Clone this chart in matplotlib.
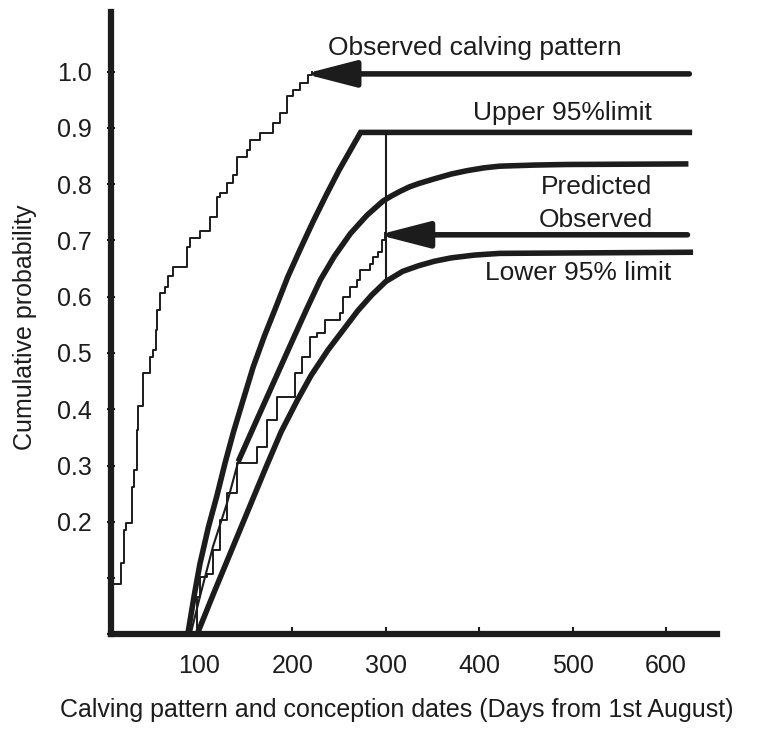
import matplotlib.pyplot as plt

# observed calving pattern (thin step line, left)
calving_days = [6.5, 8.3, 14.7, 16, 19.7, 21.8, 26, 28, 30.7, 33.2, 35, 40.4, 47.5, 51, 54,
                54.7, 58.2, 63.6, 67.1, 72.5, 85, 86.8, 90.4, 99.3, 101, 108.2, 111.8, 119,
                122.5, 129.7, 136.7, 140.4, 151, 154.6, 165.3, 176, 179.5, 186.7, 193.9, 201,
                208, 217, 220.7]
calving_prob = [0.0, 0.09, 0.09, 0.126, 0.185, 0.197, 0.197, 0.262, 0.292, 0.363, 0.405, 0.464,
                0.493, 0.505, 0.541, 0.576, 0.606, 0.618, 0.636, 0.653, 0.653, 0.689, 0.704,
                0.704, 0.716, 0.716, 0.742, 0.778, 0.784, 0.802, 0.816, 0.849, 0.861, 0.879,
                0.891, 0.891, 0.908, 0.926, 0.956, 0.967, 0.979, 0.994, 1.0]

# observed conception dates (thin step line)
conc_days = [85, 97.5, 101, 108.2, 115.3, 122.5, 129.7, 140.4, 156.4, 161.8, 172.5, 183.2,
             197.4, 202.8, 210, 218.8, 226, 235, 251, 254.5, 261.7, 268.8, 272.4, 283, 286.6,
             292, 295.6, 299.1]
conc_prob = [0.0, 0.067, 0.102, 0.108, 0.15, 0.203, 0.251, 0.304, 0.304, 0.333, 0.381, 0.422,
             0.422, 0.464, 0.493, 0.529, 0.535, 0.559, 0.571, 0.6, 0.618, 0.63, 0.648, 0.659,
             0.671, 0.68, 0.701, 0.713]

# predicted curve (thin at the start, thick afterwards)
pred_low_days = [91, 101, 115, 130, 142]
pred_low_prob = [0.0, 0.067, 0.156, 0.233, 0.307]
pred_days = [142, 160, 180, 200, 215, 230, 245, 262, 280, 297, 306, 315, 325, 335, 351, 370,
             387, 405, 422, 460, 494, 624]
pred_prob = [0.307, 0.374, 0.448, 0.522, 0.577, 0.63, 0.672, 0.712, 0.745, 0.77, 0.779, 0.787,
             0.795, 0.801, 0.809, 0.818, 0.824, 0.829, 0.832, 0.834, 0.835, 0.836]

# upper and lower 95% limits
upper_days = [88, 95, 101, 110, 119, 128, 137, 147, 158, 170, 182, 195, 208, 222, 236, 250,
              262, 273, 625]
upper_prob = [0.0, 0.07, 0.125, 0.19, 0.245, 0.305, 0.36, 0.415, 0.475, 0.53, 0.58, 0.635,
              0.683, 0.733, 0.78, 0.825, 0.86, 0.892, 0.892]
lower_days = [98, 115, 137, 155, 172, 188, 205, 220, 238, 254, 270, 285, 300, 318, 335, 352,
              370, 395, 422, 626]
lower_prob = [0.0, 0.07, 0.158, 0.23, 0.298, 0.36, 0.415, 0.46, 0.505, 0.54, 0.575, 0.603,
              0.627, 0.645, 0.655, 0.663, 0.669, 0.674, 0.677, 0.679]

ink = '#1c1c1c'
plt.rcParams['font.family'] = ['Liberation Sans', 'DejaVu Sans']

fig = plt.figure(figsize=(7.67, 7.33), dpi=100)
ax = fig.add_axes([111 / 767, 98.7 / 733, 606 / 767, 622.3 / 733])

ax.step(calving_days, calving_prob, where='post', color=ink, lw=1.4)
ax.step(conc_days, conc_prob, where='post', color=ink, lw=1.4)
ax.plot(pred_low_days, pred_low_prob, color=ink, lw=1.5)
ax.plot(pred_days, pred_prob, color=ink, lw=4, solid_capstyle='butt')
ax.plot(upper_days, upper_prob, color=ink, lw=4, solid_joinstyle='miter')
ax.plot(lower_days, lower_prob, color=ink, lw=4)
ax.plot([300, 300], [0.892, 0.627], color=ink, lw=1.5)

# arrows pointing at the observed curves
ax.annotate('', xy=(213, 0.996), xytext=(625, 0.996),
            arrowprops=dict(arrowstyle='-|>,head_length=3.1,head_width=0.8', lw=4,
                            color=ink, mutation_scale=10, shrinkA=0, shrinkB=0))
ax.annotate('', xy=(292, 0.71), xytext=(623, 0.71),
            arrowprops=dict(arrowstyle='-|>,head_length=3.1,head_width=0.8', lw=4,
                            color=ink, mutation_scale=10, shrinkA=0, shrinkB=0))

ax.text(395.5, 1.042, 'Observed calving pattern', ha='center', va='center', fontsize=19, color=ink)
ax.text(488.6, 0.927, 'Upper 95%limit', ha='center', va='center', fontsize=19, color=ink)
ax.text(526, 0.795, 'Predicted', ha='center', va='center', fontsize=19, color=ink)
ax.text(525, 0.736, 'Observed', ha='center', va='center', fontsize=19, color=ink)
ax.text(505.8, 0.642, 'Lower 95% limit', ha='center', va='center', fontsize=19, color=ink)

ax.set_xlim(5.8, 654.6)
ax.set_ylim(0, 1.106)
ax.set_xticks([100, 200, 300, 400, 500, 600])
ax.set_yticks([0, 0.1, 0.2, 0.3, 0.4, 0.5, 0.6, 0.7, 0.8, 0.9, 1.0])
ax.set_yticklabels(['', '', '0.2', '0.3', '0.4', '0.5', '0.6', '0.7', '0.8', '0.9', '1.0'])
ax.tick_params(axis='x', direction='in', length=5, width=1.5, labelsize=18, pad=14, colors=ink)
ax.tick_params(axis='y', direction='inout', length=6, width=1.5, labelsize=18, pad=11, colors=ink)

for side in ['top', 'right']:
    ax.spines[side].set_visible(False)
for side in ['left', 'bottom']:
    ax.spines[side].set_linewidth(4.5)
    ax.spines[side].set_color(ink)

fig.text(396.5 / 767, 1 - 710 / 733, 'Calving pattern and conception dates (Days from 1st August)',
         ha='center', va='center', fontsize=18, color=ink)
fig.text(25 / 767, 1 - 327 / 733, 'Cumulative probability', rotation=90,
         ha='center', va='center', fontsize=18, color=ink)

fig.savefig('out.png', dpi=100)
